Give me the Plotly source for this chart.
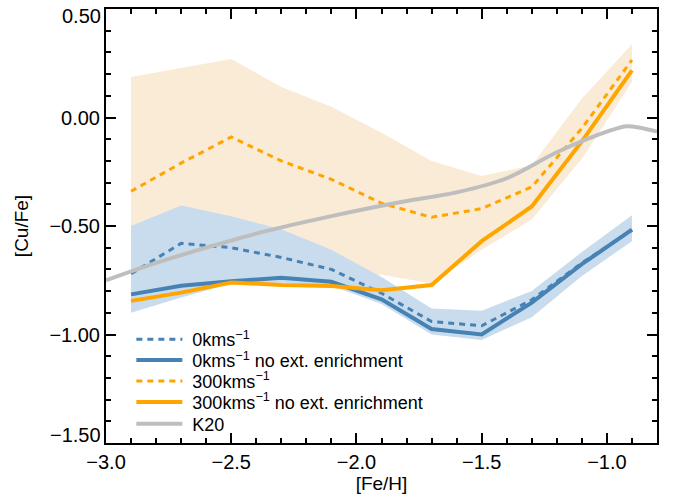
import plotly.graph_objects as go

feh = [-2.9, -2.7, -2.5, -2.3, -2.1, -1.9, -1.7, -1.5, -1.3, -1.1, -0.9]

v0_dashed = [-0.72, -0.58, -0.60, -0.645, -0.70, -0.81, -0.94, -0.96, -0.84, -0.67, -0.52]
v0_solid = [-0.815, -0.775, -0.755, -0.738, -0.757, -0.838, -0.975, -1.00, -0.853, -0.676, -0.517]
v0_upper = [-0.50, -0.405, -0.455, -0.515, -0.61, -0.735, -0.88, -0.89, -0.80, -0.62, -0.45]
v0_lower = [-0.90, -0.83, -0.765, -0.76, -0.775, -0.86, -1.00, -1.025, -0.92, -0.73, -0.57]

v300_dashed = [-0.34, -0.21, -0.09, -0.20, -0.285, -0.395, -0.46, -0.42, -0.32, -0.05, 0.265]
v300_solid = [-0.845, -0.807, -0.76, -0.772, -0.777, -0.796, -0.772, -0.57, -0.41, -0.11, 0.217]
v300_upper = [0.187, 0.23, 0.27, 0.14, 0.05, -0.07, -0.20, -0.27, -0.22, 0.087, 0.337]
v300_lower = [-0.845, -0.805, -0.765, -0.772, -0.735, -0.725, -0.765, -0.61, -0.47, -0.19, 0.164]

k20_x = [-3.0, -2.8, -2.6, -2.4, -2.2, -2.0, -1.8, -1.6, -1.4, -1.2, -1.0, -0.92, -0.8]
k20_y = [-0.75, -0.67, -0.60, -0.535, -0.48, -0.43, -0.385, -0.345, -0.28, -0.16, -0.065, -0.04, -0.065]

x_ticks = [-3.0, -2.5, -2.0, -1.5, -1.0]
y_ticks = [0.5, 0.0, -0.5, -1.0, -1.5]
y_ticktext = ["", "0.00", "−0.50", "−1.00", ""]
y_edge_vals = [0.5, -1.5]
y_edge_text = ["0.50", "−1.50"]

legend_names = ["0kms<sup>−1</sup>", "0kms<sup>−1</sup> no ext. enrichment",
                "300kms<sup>−1</sup>", "300kms<sup>−1</sup> no ext. enrichment", "K20"]

BLUE = "rgb(70,130,180)"
ORANGE = "rgb(255,165,0)"
GREY = "rgb(190,190,190)"
BLUE_BAND = "rgb(200,220,238)"
ORANGE_BAND = "rgb(250,235,215)"
FONT = "Liberation Sans, Arial, sans-serif"
SP = "\u00a0"

fig = go.Figure()

fig.add_trace(go.Scatter(x=feh + feh[::-1], y=v300_upper + v300_lower[::-1], fill="toself",
                         fillcolor=ORANGE_BAND, line=dict(width=0), mode="lines",
                         showlegend=False, hoverinfo="skip"))
fig.add_trace(go.Scatter(x=feh + feh[::-1], y=v0_upper + v0_lower[::-1], fill="toself",
                         fillcolor=BLUE_BAND, line=dict(width=0), mode="lines",
                         showlegend=False, hoverinfo="skip"))

series = [
    (feh, v0_dashed, dict(color=BLUE, width=3, dash="6px,5px")),
    (feh, v0_solid, dict(color=BLUE, width=4)),
    (feh, v300_dashed, dict(color=ORANGE, width=3, dash="6px,5px")),
    (feh, v300_solid, dict(color=ORANGE, width=4)),
    (k20_x, k20_y, dict(color=GREY, width=4, shape="spline", smoothing=0.8)),
]
legend_ids = ["legend", "legend2", "legend3", "legend4", "legend5"]
for (xs, ys, ln), nm, lid in zip(series, legend_names, legend_ids):
    fig.add_trace(go.Scatter(x=xs, y=ys, mode="lines", name=SP + nm, line=ln, legend=lid))

axis_common = dict(
    showgrid=False, zeroline=False, showline=True, linecolor="black", linewidth=2,
    mirror="ticks", ticks="inside", ticklen=10, tickwidth=1.5, tickcolor="black",
    tickfont=dict(family=FONT, size=20, color="black"),
    title_font=dict(family=FONT, size=19, color="black"),
)

fig.update_xaxes(range=[-3.0, -0.8], tickvals=x_ticks, tickformat=".1f",
                 minor=dict(ticks="inside", ticklen=5, dtick=0.1, tick0=-3.0, tickwidth=1.5, tickcolor="black"),
                 title_text="[Fe/H]", title_standoff=4, **axis_common)
fig.update_yaxes(range=[-1.5, 0.5], tickvals=y_ticks, ticktext=y_ticktext,
                 minor=dict(ticks="inside", ticklen=5, dtick=0.1, tick0=-1.5, tickwidth=1.5, tickcolor="black"),
                 title_text="[Cu/Fe]", title_standoff=16, **axis_common)

for val, txt, shift in zip(y_edge_vals, y_edge_text, [-7, 8]):
    fig.add_annotation(x=0, xref="paper", y=val, yref="y", text=txt, showarrow=False,
                       xanchor="right", yanchor="middle", xshift=-3, yshift=shift,
                       font=dict(family=FONT, size=20, color="black"))

# legend row centres in pixels (plot area top=7, height=436)
row_px = [339, 360, 381, 402, 424]
legends = {}
for lid, py in zip(legend_ids, row_px):
    legends[lid] = dict(x=0.046, y=(443 - py) / 436, xanchor="left", yanchor="middle",
                        bgcolor="rgba(0,0,0,0)", borderwidth=0, itemwidth=46,
                        font=dict(family=FONT, size=18, color="black"))

fig.update_layout(
    width=676, height=500,
    margin=dict(l=106, r=19, t=7, b=57),
    plot_bgcolor="white", paper_bgcolor="white",
    font=dict(family=FONT, color="black"),
    showlegend=True,
    **legends,
)

fig.write_html("out.html")
